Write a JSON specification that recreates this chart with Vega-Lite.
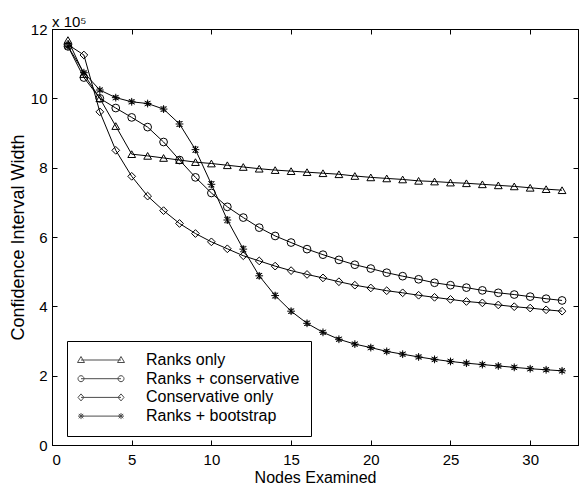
{
  "$schema": "https://vega.github.io/schema/vega-lite/v6.json",
  "width": 526,
  "height": 416,
  "autosize": {"type": "none"},
  "padding": {"left": 52, "top": 29, "right": 3, "bottom": 42},
  "background": "white",
  "title": {"text": "x 10⁵", "anchor": "start", "frame": "group", "font": "Liberation Sans", "fontSize": 15, "fontWeight": "normal", "color": "black", "offset": -8},
  "config": {
    "view": {"stroke": "black", "strokeWidth": 1},
    "axis": {
      "grid": false, "domainColor": "black", "tickColor": "black", "labelColor": "black",
      "labelFont": "Liberation Sans", "labelFontSize": 15, "titleFont": "Liberation Sans",
      "titleFontWeight": "normal", "titleColor": "black",
      "tickSize": -5, "domainWidth": 1, "tickWidth": 1
    }
  },
  "data": {"values": [
    {"s":"Ranks only","x":1,"y":11.68},{"s":"Ranks only","x":2,"y":10.7},{"s":"Ranks only","x":3,"y":10.0},{"s":"Ranks only","x":4,"y":9.2},{"s":"Ranks only","x":5,"y":8.39},{"s":"Ranks only","x":6,"y":8.34},{"s":"Ranks only","x":7,"y":8.28},{"s":"Ranks only","x":8,"y":8.22},{"s":"Ranks only","x":9,"y":8.16},{"s":"Ranks only","x":10,"y":8.12},{"s":"Ranks only","x":11,"y":8.07},{"s":"Ranks only","x":12,"y":8.02},{"s":"Ranks only","x":13,"y":7.97},{"s":"Ranks only","x":14,"y":7.93},{"s":"Ranks only","x":15,"y":7.9},{"s":"Ranks only","x":16,"y":7.87},{"s":"Ranks only","x":17,"y":7.84},{"s":"Ranks only","x":18,"y":7.81},{"s":"Ranks only","x":19,"y":7.76},{"s":"Ranks only","x":20,"y":7.72},{"s":"Ranks only","x":21,"y":7.69},{"s":"Ranks only","x":22,"y":7.66},{"s":"Ranks only","x":23,"y":7.62},{"s":"Ranks only","x":24,"y":7.6},{"s":"Ranks only","x":25,"y":7.57},{"s":"Ranks only","x":26,"y":7.55},{"s":"Ranks only","x":27,"y":7.52},{"s":"Ranks only","x":28,"y":7.49},{"s":"Ranks only","x":29,"y":7.46},{"s":"Ranks only","x":30,"y":7.42},{"s":"Ranks only","x":31,"y":7.38},{"s":"Ranks only","x":32,"y":7.35},
    {"s":"Ranks + conservative","x":1,"y":11.5},{"s":"Ranks + conservative","x":2,"y":10.6},{"s":"Ranks + conservative","x":3,"y":10.0},{"s":"Ranks + conservative","x":4,"y":9.72},{"s":"Ranks + conservative","x":5,"y":9.45},{"s":"Ranks + conservative","x":6,"y":9.17},{"s":"Ranks + conservative","x":7,"y":8.74},{"s":"Ranks + conservative","x":8,"y":8.22},{"s":"Ranks + conservative","x":9,"y":7.72},{"s":"Ranks + conservative","x":10,"y":7.27},{"s":"Ranks + conservative","x":11,"y":6.87},{"s":"Ranks + conservative","x":12,"y":6.56},{"s":"Ranks + conservative","x":13,"y":6.27},{"s":"Ranks + conservative","x":14,"y":6.03},{"s":"Ranks + conservative","x":15,"y":5.84},{"s":"Ranks + conservative","x":16,"y":5.65},{"s":"Ranks + conservative","x":17,"y":5.49},{"s":"Ranks + conservative","x":18,"y":5.34},{"s":"Ranks + conservative","x":19,"y":5.2},{"s":"Ranks + conservative","x":20,"y":5.09},{"s":"Ranks + conservative","x":21,"y":4.97},{"s":"Ranks + conservative","x":22,"y":4.87},{"s":"Ranks + conservative","x":23,"y":4.78},{"s":"Ranks + conservative","x":24,"y":4.68},{"s":"Ranks + conservative","x":25,"y":4.61},{"s":"Ranks + conservative","x":26,"y":4.54},{"s":"Ranks + conservative","x":27,"y":4.46},{"s":"Ranks + conservative","x":28,"y":4.39},{"s":"Ranks + conservative","x":29,"y":4.34},{"s":"Ranks + conservative","x":30,"y":4.28},{"s":"Ranks + conservative","x":31,"y":4.22},{"s":"Ranks + conservative","x":32,"y":4.17},
    {"s":"Conservative only","x":1,"y":11.55},{"s":"Conservative only","x":2,"y":11.25},{"s":"Conservative only","x":3,"y":9.61},{"s":"Conservative only","x":4,"y":8.5},{"s":"Conservative only","x":5,"y":7.75},{"s":"Conservative only","x":6,"y":7.18},{"s":"Conservative only","x":7,"y":6.76},{"s":"Conservative only","x":8,"y":6.39},{"s":"Conservative only","x":9,"y":6.1},{"s":"Conservative only","x":10,"y":5.86},{"s":"Conservative only","x":11,"y":5.66},{"s":"Conservative only","x":12,"y":5.46},{"s":"Conservative only","x":13,"y":5.31},{"s":"Conservative only","x":14,"y":5.16},{"s":"Conservative only","x":15,"y":5.03},{"s":"Conservative only","x":16,"y":4.92},{"s":"Conservative only","x":17,"y":4.82},{"s":"Conservative only","x":18,"y":4.71},{"s":"Conservative only","x":19,"y":4.61},{"s":"Conservative only","x":20,"y":4.53},{"s":"Conservative only","x":21,"y":4.45},{"s":"Conservative only","x":22,"y":4.39},{"s":"Conservative only","x":23,"y":4.32},{"s":"Conservative only","x":24,"y":4.26},{"s":"Conservative only","x":25,"y":4.2},{"s":"Conservative only","x":26,"y":4.14},{"s":"Conservative only","x":27,"y":4.1},{"s":"Conservative only","x":28,"y":4.04},{"s":"Conservative only","x":29,"y":3.99},{"s":"Conservative only","x":30,"y":3.95},{"s":"Conservative only","x":31,"y":3.9},{"s":"Conservative only","x":32,"y":3.86},
    {"s":"Ranks + bootstrap","x":1,"y":11.5,"e":0.04},{"s":"Ranks + bootstrap","x":2,"y":10.74,"e":0.04},{"s":"Ranks + bootstrap","x":3,"y":10.24,"e":0.05},{"s":"Ranks + bootstrap","x":4,"y":10.02,"e":0.05},{"s":"Ranks + bootstrap","x":5,"y":9.9,"e":0.05},{"s":"Ranks + bootstrap","x":6,"y":9.85,"e":0.05},{"s":"Ranks + bootstrap","x":7,"y":9.69,"e":0.06},{"s":"Ranks + bootstrap","x":8,"y":9.26,"e":0.07},{"s":"Ranks + bootstrap","x":9,"y":8.52,"e":0.08},{"s":"Ranks + bootstrap","x":10,"y":7.52,"e":0.08},{"s":"Ranks + bootstrap","x":11,"y":6.49,"e":0.08},{"s":"Ranks + bootstrap","x":12,"y":5.65,"e":0.08},{"s":"Ranks + bootstrap","x":13,"y":4.88,"e":0.07},{"s":"Ranks + bootstrap","x":14,"y":4.31,"e":0.07},{"s":"Ranks + bootstrap","x":15,"y":3.86,"e":0.06},{"s":"Ranks + bootstrap","x":16,"y":3.51,"e":0.06},{"s":"Ranks + bootstrap","x":17,"y":3.25,"e":0.05},{"s":"Ranks + bootstrap","x":18,"y":3.05,"e":0.05},{"s":"Ranks + bootstrap","x":19,"y":2.91,"e":0.05},{"s":"Ranks + bootstrap","x":20,"y":2.81,"e":0.05},{"s":"Ranks + bootstrap","x":21,"y":2.7,"e":0.05},{"s":"Ranks + bootstrap","x":22,"y":2.62,"e":0.05},{"s":"Ranks + bootstrap","x":23,"y":2.54,"e":0.05},{"s":"Ranks + bootstrap","x":24,"y":2.47,"e":0.05},{"s":"Ranks + bootstrap","x":25,"y":2.41,"e":0.05},{"s":"Ranks + bootstrap","x":26,"y":2.36,"e":0.05},{"s":"Ranks + bootstrap","x":27,"y":2.32,"e":0.05},{"s":"Ranks + bootstrap","x":28,"y":2.28,"e":0.05},{"s":"Ranks + bootstrap","x":29,"y":2.24,"e":0.05},{"s":"Ranks + bootstrap","x":30,"y":2.2,"e":0.05},{"s":"Ranks + bootstrap","x":31,"y":2.17,"e":0.05},{"s":"Ranks + bootstrap","x":32,"y":2.14,"e":0.05}
  ]},
  "layer": [
    {
      "mark": {"type": "line", "color": "black", "strokeWidth": 1},
      "encoding": {
        "x": {"field": "x", "type": "quantitative", "scale": {"domain": [0, 33], "nice": false, "zero": false},
              "axis": {"orient": "bottom", "values": [0,5,10,15,20,25,30], "title": "Nodes Examined", "titleFontSize": 16, "labelPadding": 12, "titlePadding": 2}},
        "y": {"field": "y", "type": "quantitative", "scale": {"domain": [0, 12], "nice": false},
              "axis": {"orient": "left", "values": [0,2,4,6,8,10,12], "title": "Confidence Interval Width", "titleFontSize": 18, "labelPadding": 10, "titlePadding": 3}},
        "detail": {"field": "s"}
      }
    },
    {
      "transform": [{"filter": "datum.s === 'Ranks + bootstrap'"}],
      "mark": {"type": "errorbar", "ticks": {"color": "black", "size": 6}, "rule": {"color": "black"}},
      "encoding": {
        "x": {"field": "x", "type": "quantitative", "axis": null},
        "y": {"field": "y", "type": "quantitative", "axis": null},
        "yError": {"field": "e"}
      }
    },
    {
      "mark": {"type": "point", "filled": false, "color": "black", "strokeWidth": 1, "opacity": 1, "size": 60},
      "encoding": {
        "x": {"field": "x", "type": "quantitative", "axis": {"orient": "top", "values": [0,5,10,15,20,25,30], "labels": false, "title": null}},
        "y": {"field": "y", "type": "quantitative", "axis": {"orient": "right", "values": [0,2,4,6,8,10,12], "labels": false, "title": null}},
        "shape": {
          "field": "s", "type": "nominal", "legend": null,
          "scale": {"domain": ["Ranks only", "Ranks + conservative", "Conservative only", "Ranks + bootstrap"],
                    "range": ["triangle-up", "circle", "diamond", "M-1,0L1,0M0,-1L0,1M-0.7,-0.7L0.7,0.7M-0.7,0.7L0.7,-0.7"]}
        }
      }
    },
    {
      "transform": [{"filter": "false"}],
      "mark": {"type": "point", "filled": false, "color": "black", "strokeWidth": 1},
      "encoding": {
        "x": {"field": "x", "type": "quantitative", "axis": null},
        "y": {"field": "y", "type": "quantitative", "axis": null},
        "shape": {
          "field": "s", "type": "nominal",
          "scale": {"domain": ["Ranks only", "Ranks + conservative", "Conservative only", "Ranks + bootstrap"],
                    "range": [
                      "M-20,0L20,0M-23.5,2.5L-16.5,2.5L-20,-3.5ZM16.5,2.5L23.5,2.5L20,-3.5Z",
                      "M-20,0L20,0M-23,0A3,3,0,1,0,-17,0A3,3,0,1,0,-23,0ZM17,0A3,3,0,1,0,23,0A3,3,0,1,0,17,0Z",
                      "M-20,0L20,0M-23,0L-20,-3.5L-17,0L-20,3.5ZM17,0L20,-3.5L23,0L20,3.5Z",
                      "M-20,0L20,0M-23,0L-17,0M-20,-3L-20,3M-22.2,-2.2L-17.8,2.2M-22.2,2.2L-17.8,-2.2M17,0L23,0M20,-3L20,3M17.8,-2.2L22.2,2.2M17.8,2.2L22.2,-2.2"
                    ]},
          "legend": {
            "orient": "none", "legendX": 15, "legendY": 312, "title": null,
            "strokeColor": "black", "fillColor": "white", "padding": 11,
            "symbolSize": 4, "symbolOffset": 15, "labelOffset": 37, "rowPadding": 2.7,
            "symbolStrokeColor": "black", "symbolStrokeWidth": 1, "symbolFillColor": "transparent",
            "labelFont": "Liberation Sans", "labelFontSize": 16, "labelColor": "black", "labelLimit": 400,
            "labelExpr": "datum.label + '\u2003\u2003\u2003'"
          }
        }
      }
    }
  ],
  "resolve": {
    "axis": {"x": "independent", "y": "independent"},
    "scale": {"shape": "independent"},
    "legend": {"shape": "independent"}
  }
}
